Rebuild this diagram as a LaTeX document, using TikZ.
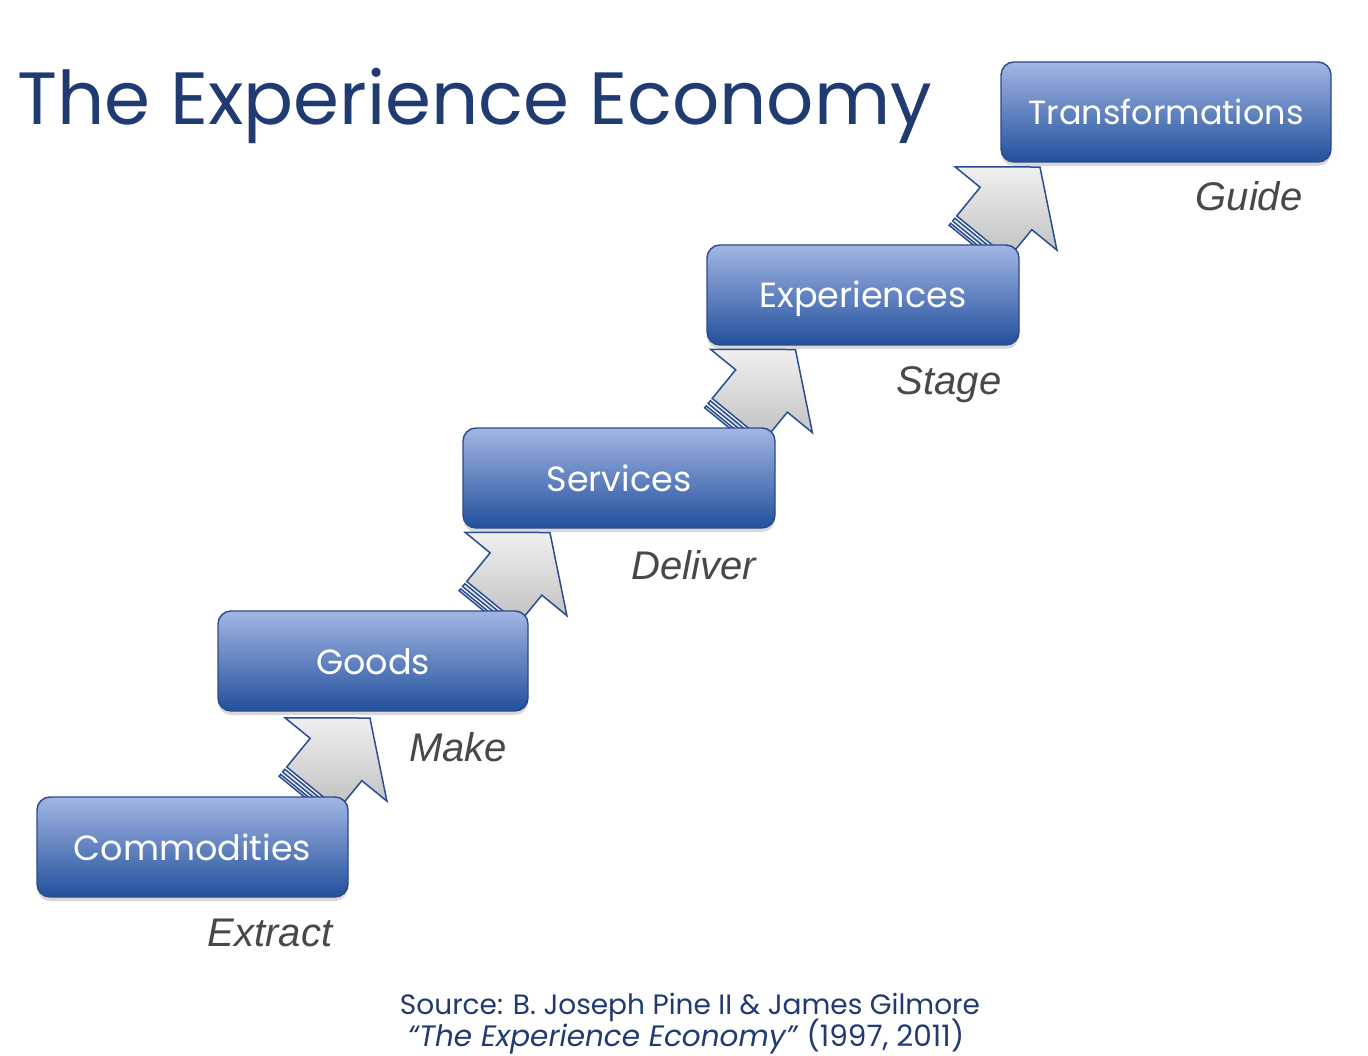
\documentclass[tikz,border=0pt]{standalone}
\usepackage{fontspec}
\setmainfont{Liberation Sans}
\newfontfamily\gothic{Poppins}
\usetikzlibrary{shadows}
\definecolor{navy}{RGB}{32,58,114}
\definecolor{boxtop}{RGB}{162,182,228}
\definecolor{boxbot}{RGB}{34,80,156}
\definecolor{boxline}{RGB}{44,74,136}
\definecolor{arrline}{RGB}{40,78,145}
\definecolor{lbl}{RGB}{72,72,72}
\tikzset{
  stagebox/.style={rounded corners=13pt, top color=boxtop, bottom color=boxbot,
    draw=boxline, line width=1.4pt, minimum height=100pt, text=white,
    text height=26pt, text depth=0pt, inner sep=0pt,
    font=\gothic\fontsize{35}{40}\selectfont,
    drop shadow={opacity=0.3, shadow xshift=0pt, shadow yshift=-4pt}},
  verblabel/.style={font=\itshape\fontsize{40}{44}\selectfont, text=lbl, anchor=base, inner sep=0pt},
  srctext/.style={anchor=base, inner sep=0pt, text=navy, font=\gothic\fontsize{28}{30}\selectfont},
  arrbody/.style={draw=arrline, line width=1.5pt, top color=gray!12, bottom color=gray!50, line join=miter},
}
\newcommand\stepArrow[3]{%
  \begin{scope}[shift={(#1,#2)}, rotate=50.7]
    \path[arrbody] (-49,-33.4) rectangle (-46.5,33.4);
    \path[arrbody] (-43.5,-33.4) rectangle (-40,33.4);
    \path[arrbody] (-37,33.4) -- (0,33.4) -- (0,65.8) -- (53.6,0) -- (0,-65.8) -- (0,-33.4) -- (-37,-33.4) -- cycle;
    \coordinate (#3) at (53.6,0);
  \end{scope}}
\begin{document}
\begin{tikzpicture}[x=1pt,y=-1pt]
\useasboundingbox[fill=white] (0,0) rectangle (1368,1056);
% title
\node[anchor=base west, inner sep=0pt, text=navy, font=\gothic\fontsize{74}{80}\selectfont] (title) at (17,125) {The Experience Economy};
% arrows
\stepArrow{336}{759.5}{a1}
\stepArrow{516}{574}{a2}
\stepArrow{761.5}{391}{a3}
\stepArrow{1006}{208.5}{a4}
% boxes
\node[stagebox, minimum width=311pt] (comm) at (192.5,847) {Commodities};
\node[stagebox, minimum width=310pt] (goods) at (373,661) {Goods};
\node[stagebox, minimum width=312pt] (serv) at (619,478) {Services};
\node[stagebox, minimum width=312pt] (exp) at (863,295) {Experiences};
\node[stagebox, minimum width=330pt, font=\gothic\fontsize{33.5}{40}\selectfont] (trans) at (1166,112) {Transformations};
% verbs
\node[verblabel] (l1) at (270,946) {Extract};
\node[verblabel] (l2) at (458,761) {Make};
\node[verblabel] (l3) at (694,579) {Deliver};
\node[verblabel] (l4) at (949,395) {Stage};
\node[verblabel] (l5) at (1249,211) {Guide};
% source
\node[srctext] (src1) at (690,1014) {Source: B. Joseph Pine II \& James Gilmore};
\node[srctext, font=\gothic\fontsize{29.5}{31}\selectfont] (src2) at (686,1046) {\textit{“The Experience Economy”} (1997, 2011)};
\end{tikzpicture}
\end{document}
